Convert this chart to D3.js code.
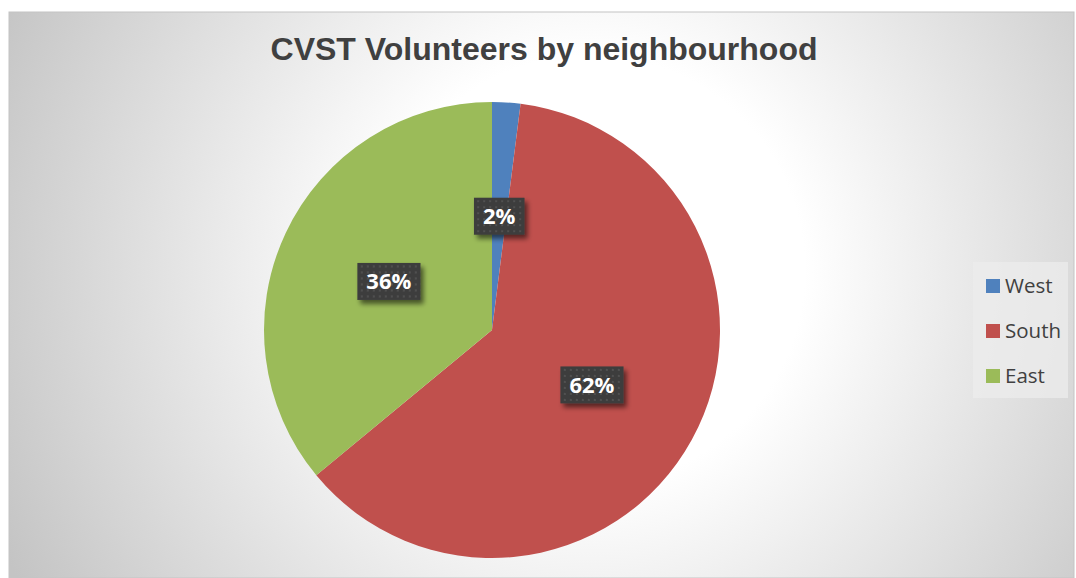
<!DOCTYPE html>
<html>
<head>
<meta charset="utf-8">
<script src="https://cdn.jsdelivr.net/npm/d3@7"></script>
<style>
  html, body { margin: 0; padding: 0; background: #ffffff; }
  svg { display: block; }
</style>
</head>
<body>
<svg id="chart" width="1076" height="578"></svg>
<script>
// Share of volunteers per neighbourhood (percent)
const neighbourhoods = ["West", "South", "East"];
const shares = [2, 62, 36];
const sliceColors = ["#4F81BD", "#C0504D", "#9BBB59"];
const chartTitle = "CVST Volunteers by neighbourhood";

const svg = d3.select("#chart");
const frame = { x: 9, y: 12, w: 1065, h: 566 };

const defs = svg.append("defs");

// Soft radial backdrop: light centre fading to grey toward the corners
const bg = defs.append("radialGradient")
  .attr("id", "bgGrad")
  .attr("gradientUnits", "userSpaceOnUse")
  .attr("cx", 590).attr("cy", 270).attr("r", 650);
bg.append("stop").attr("offset", "0").attr("stop-color", "#ffffff");
bg.append("stop").attr("offset", "0.33").attr("stop-color", "#ffffff");
bg.append("stop").attr("offset", "1").attr("stop-color", "#c4c4c4");

// Dotted dark fill for the value labels
const pat = defs.append("pattern")
  .attr("id", "dots")
  .attr("patternUnits", "userSpaceOnUse")
  .attr("width", 6).attr("height", 6);
pat.append("rect").attr("width", 6).attr("height", 6).attr("fill", "#3d3d3d");
pat.append("circle").attr("cx", 3).attr("cy", 3).attr("r", 1.1).attr("fill", "#555555");

// Drop shadow for the labels
const sh = defs.append("filter").attr("id", "shadow")
  .attr("x", "-30%").attr("y", "-30%").attr("width", "170%").attr("height", "190%");
sh.append("feGaussianBlur").attr("in", "SourceAlpha").attr("stdDeviation", 2.5).attr("result", "b");
sh.append("feOffset").attr("in", "b").attr("dx", 3).attr("dy", 4).attr("result", "o");
sh.append("feComponentTransfer").attr("in", "o").attr("result", "s")
  .append("feFuncA").attr("type", "linear").attr("slope", 0.55);
const mg = sh.append("feMerge");
mg.append("feMergeNode").attr("in", "s");
mg.append("feMergeNode").attr("in", "SourceGraphic");

// Chart frame
svg.append("rect")
  .attr("x", frame.x).attr("y", frame.y)
  .attr("width", frame.w).attr("height", frame.h)
  .attr("fill", "url(#bgGrad)")
  .attr("stroke", "#c4c4c4").attr("stroke-width", 1);

// Title
svg.append("text")
  .attr("x", 544).attr("y", 60)
  .attr("text-anchor", "middle")
  .attr("font-family", "'Liberation Sans', Arial, sans-serif")
  .attr("font-weight", "bold")
  .attr("font-size", 32)
  .attr("fill", "#404040")
  .text(chartTitle);

// Pie
const cx = 492, cy = 330, radius = 228;
const data = neighbourhoods.map((n, i) => ({ name: n, value: shares[i], color: sliceColors[i] }));
const pie = d3.pie().value(d => d.value).sort(null);
const arcs = pie(data);
const arc = d3.arc().innerRadius(0).outerRadius(radius);
const labelArc = d3.arc().innerRadius(radius * 0.5).outerRadius(radius * 0.5);

const g = svg.append("g").attr("transform", `translate(${cx},${cy})`);
g.selectAll("path.slice")
  .data(arcs)
  .join("path")
  .attr("class", "slice")
  .attr("d", arc)
  .attr("fill", d => d.data.color);

// Value labels
const fmt = d3.format(".0%");
const total = d3.sum(shares);
const lab = g.selectAll("g.lab")
  .data(arcs)
  .join("g")
  .attr("class", "lab")
  .attr("transform", d => `translate(${labelArc.centroid(d)})`);

lab.each(function(d) {
  const sel = d3.select(this);
  const t = sel.append("text")
    .attr("text-anchor", "middle")
    .attr("dy", "0.36em")
    .attr("font-family", "'Open Sans', 'Liberation Sans', sans-serif")
    .attr("font-weight", "bold")
    .attr("font-size", 22)
    .attr("fill", "#ffffff")
    .text(fmt(d.data.value / total));
  const bb = t.node().getBBox();
  const padX = 9, h = 37;
  sel.insert("rect", "text")
    .attr("x", bb.x - padX).attr("y", -h / 2)
    .attr("width", bb.width + padX * 2).attr("height", h)
    .attr("fill", "url(#dots)")
    .attr("filter", "url(#shadow)");
});

// Legend
const lg = svg.append("g").attr("transform", "translate(973,262)");
lg.append("rect")
  .attr("width", 95).attr("height", 136)
  .attr("fill", "#ececec").attr("fill-opacity", 0.75);
const rows = lg.selectAll("g.row")
  .data(data)
  .join("g")
  .attr("class", "row")
  .attr("transform", (d, i) => `translate(13,${24 + i * 45})`);
rows.append("rect")
  .attr("x", 0).attr("y", -7)
  .attr("width", 14).attr("height", 14)
  .attr("fill", d => d.color);
rows.append("text")
  .attr("x", 19).attr("y", 0)
  .attr("dy", "0.36em")
  .attr("font-family", "'Open Sans', 'Liberation Sans', sans-serif")
  .attr("font-size", 20.5)
  .attr("fill", "#404040")
  .text(d => d.name);
</script>
</body>
</html>
